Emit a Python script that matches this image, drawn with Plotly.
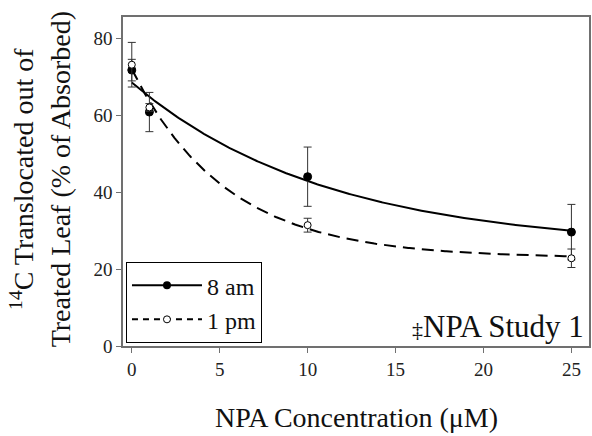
import numpy as np
import plotly.graph_objects as go

# NPA concentration (uM) and mean 14C translocation (% of absorbed) with error bars
npa_conc = [0, 1, 10, 25]
am8_mean = [71.7, 60.8, 44.0, 29.6]
am8_err = [2.8, 5.1, 7.7, 7.2]
pm1_mean = [73.1, 62.0, 31.4, 22.8]
pm1_err = [5.8, 1.0, 1.8, 2.4]

x_ticks = [0, 5, 10, 15, 20, 25]
y_ticks = [0, 20, 40, 60, 80]

FONT = "Liberation Serif"


def fit_exp_decay(x, y):
    """Least-squares fit of y = c + a*exp(-b*x) (grid over b, linear solve for c, a)."""
    x = np.asarray(x, float)
    y = np.asarray(y, float)
    best = None
    for b in np.linspace(0.005, 1.5, 6000):
        A = np.column_stack([np.ones_like(x), np.exp(-b * x)])
        coef, *_ = np.linalg.lstsq(A, y, rcond=None)
        sse = float(np.sum((A @ coef - y) ** 2))
        if best is None or sse < best[0]:
            best = (sse, coef[0], coef[1], b)
    _, c, a, b = best
    return lambda t: c + a * np.exp(-b * t)


xs = np.linspace(min(npa_conc), max(npa_conc), 300)
fit_am8 = fit_exp_decay(npa_conc, am8_mean)
fit_pm1 = fit_exp_decay(npa_conc, pm1_mean)

err_style = dict(type="data", visible=True, color="#333333", thickness=1, width=4)

fig = go.Figure()

# fitted decay curves
fig.add_trace(go.Scatter(x=xs, y=fit_am8(xs), mode="lines", showlegend=False,
                         line=dict(color="black", width=2), hoverinfo="skip"))
fig.add_trace(go.Scatter(x=xs, y=fit_pm1(xs), mode="lines", showlegend=False,
                         line=dict(color="black", width=2, dash="12px,7px"), hoverinfo="skip"))

# means with error bars
fig.add_trace(go.Scatter(x=npa_conc, y=am8_mean, mode="markers", showlegend=False,
                         error_y=dict(array=am8_err, **err_style),
                         marker=dict(color="black", size=8, line=dict(color="black", width=1))))
fig.add_trace(go.Scatter(x=npa_conc, y=pm1_mean, mode="markers", showlegend=False,
                         error_y=dict(array=pm1_err, **err_style),
                         marker=dict(color="white", size=7, line=dict(color="black", width=1))))

# legend entries (line + symbol)
fig.add_trace(go.Scatter(x=[None], y=[None], mode="lines+markers", name="8 am",
                         line=dict(color="black", width=2),
                         marker=dict(color="black", size=8)))
fig.add_trace(go.Scatter(x=[None], y=[None], mode="lines+markers", name="1 pm",
                         line=dict(color="black", width=2, dash="6px,5px"),
                         marker=dict(color="white", size=7, line=dict(color="black", width=1))))

axis_common = dict(
    showline=True, mirror=True, linecolor="#707070", linewidth=1.5,
    ticks="outside", ticklen=5, tickcolor="#707070", tickwidth=1,
    showgrid=False, zeroline=False,
    tickfont=dict(family=FONT, size=19, color="#222222"),
)

fig.update_layout(
    width=592, height=436,
    margin=dict(l=123, r=1, t=17, b=90),
    paper_bgcolor="white", plot_bgcolor="white",
    font=dict(family=FONT, color="#111111"),
    xaxis=dict(range=[-0.5, 26], tickvals=x_ticks, **axis_common),
    yaxis=dict(range=[0, 85.5], tickvals=y_ticks, **axis_common),
    legend=dict(
        x=0.0064, y=0.009, xanchor="left", yanchor="bottom",
        bgcolor="white", bordercolor="black", borderwidth=1,
        font=dict(family=FONT, size=24, color="#111111"),
        itemwidth=70, tracegroupgap=0,
    ),
    annotations=[
        dict(text="NPA Concentration (\u03bcM)", xref="paper", yref="paper",
             x=0.5, y=-0.216, xanchor="center", yanchor="middle", showarrow=False,
             font=dict(family=FONT, size=28, color="#111111")),
        dict(text="<sup>14</sup>C Translocated out of<br>Treated Leaf (% of Absorbed)",
             xref="paper", yref="paper", x=-0.177, y=0.505, textangle=-90,
             xanchor="center", yanchor="middle", showarrow=False,
             font=dict(family=FONT, size=28, color="#111111")),
        dict(text="<span style='font-size:22px'>\u2021</span>NPA Study 1",
             xref="paper", yref="paper", x=0.994, y=0.0, xanchor="right", yanchor="bottom",
             showarrow=False, font=dict(family=FONT, size=31, color="#111111")),
    ],
)

fig.write_html("out.html")
